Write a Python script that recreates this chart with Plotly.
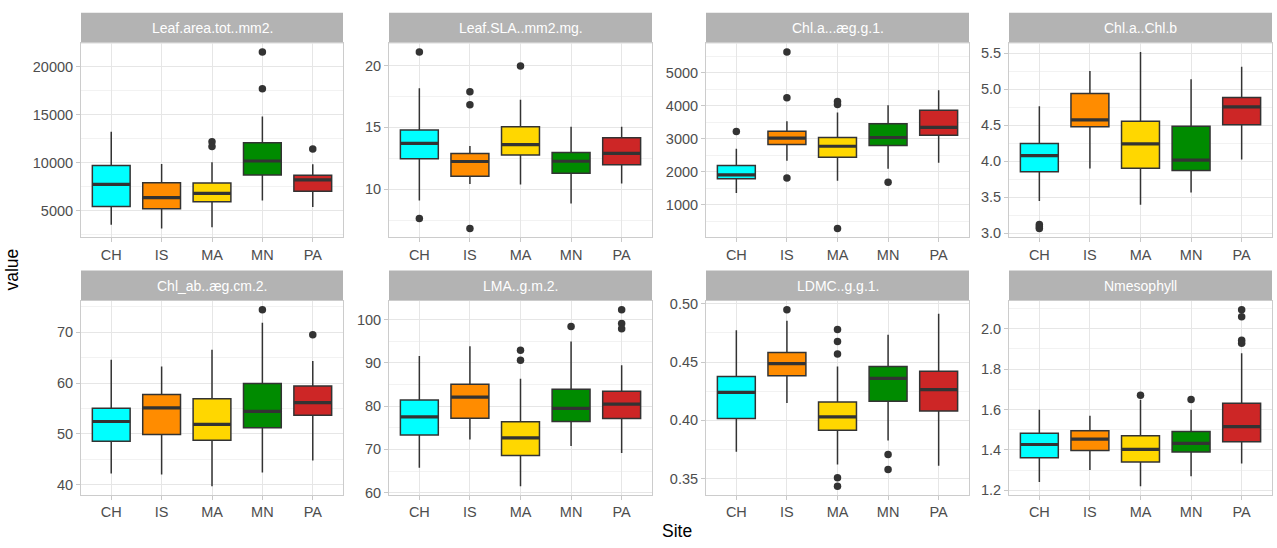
import plotly.graph_objects as go

SITES = ["CH", "IS", "MA", "MN", "PA"]
COLORS = ["#00FFFF", "#FF8C00", "#FFD700", "#008B00", "#CD2626"]
PANELS = ["Leaf.area.tot..mm2.", "Leaf.SLA..mm2.mg.", "Chl.a...æg.g.1.", "Chl.a..Chl.b",
          "Chl_ab..æg.cm.2.", "LMA..g.m.2.", "LDMC..g.g.1.", "Nmesophyll"]

LOWER = [
    [3550, 3180, 3315, 6079, 5405],
    [9.08, 10.42, 10.37, 8.84, 10.45],
    [1355, 2330, 1729, 2094, 2271],
    [3.446, 3.896, 3.392, 3.563, 4.023],
    [42.23, 42.04, 39.74, 42.43, 44.79],
    [65.77, 72.28, 61.5, 70.79, 69.14],
    [0.373, 0.4149, 0.3622, 0.3827, 0.3611],
    [1.242, 1.301, 1.221, 1.27, 1.333],
]
Q1 = [
    [5472, 5236, 5944, 8742, 7056],
    [12.47, 11.05, 12.76, 11.29, 11.97],
    [1788, 2823, 2438, 2793, 3108],
    [3.851, 4.477, 3.901, 3.869, 4.505],
    [48.55, 49.89, 48.74, 51.23, 53.66],
    [73.33, 77.23, 68.61, 76.48, 77.15],
    [0.4016, 0.4382, 0.3916, 0.4163, 0.408],
    [1.361, 1.398, 1.341, 1.39, 1.441],
]
MEDIAN = [
    [7764, 6382, 6820, 10191, 8236],
    [13.71, 12.24, 13.6, 12.26, 12.89],
    [1906, 3020, 2773, 3039, 3345],
    [4.077, 4.572, 4.239, 4.014, 4.752],
    [52.44, 55.12, 51.87, 54.42, 56.15],
    [77.53, 82.1, 72.66, 79.48, 80.45],
    [0.424, 0.4487, 0.403, 0.436, 0.4263],
    [1.427, 1.454, 1.403, 1.433, 1.516],
]
Q3 = [
    [9719, 7933, 7899, 12079, 8708],
    [14.79, 12.89, 15.05, 12.97, 14.16],
    [2192, 3227, 3039, 3453, 3867],
    [4.243, 4.937, 4.554, 4.482, 4.883],
    [55.06, 57.74, 56.91, 59.91, 59.4],
    [81.42, 85.09, 76.4, 83.9, 83.45],
    [0.4376, 0.4582, 0.4157, 0.4462, 0.4421],
    [1.483, 1.495, 1.471, 1.491, 1.631],
]
UPPER = [
    [13225, 9888, 10057, 14810, 9854],
    [18.16, 13.5, 17.24, 15.05, 15.05],
    [2695, 3532, 3798, 4015, 4468],
    [4.761, 5.252, 5.514, 5.135, 5.311],
    [64.57, 63.23, 66.55, 71.84, 64.31],
    [91.61, 93.86, 86.37, 94.98, 89.44],
    [0.4773, 0.4853, 0.4462, 0.4734, 0.4914],
    [1.599, 1.569, 1.649, 1.599, 1.879],
]
OUTLIERS = [
    [[], [], [12200, 11700], [21518, 17709], [11439]],
    [[21.1, 7.63], [17.89, 16.84, 6.82], [19.97], [], []],
    [[3217], [5630, 4241, 1808], [4130, 4040, 281], [1680], []],
    [[3.12, 3.09, 3.065], [], [], [], []],
    [[], [], [], [74.4], [69.48]],
    [[], [], [92.96, 90.64], [98.43], [102.3, 99.1, 97.9]],
    [[], [0.4948], [0.4778, 0.4676, 0.4568, 0.3508, 0.3436], [0.3708, 0.3578], []],
    [[], [], [1.671], [1.65], [2.094, 2.059, 1.943, 1.928]],
]
DTICK = [5000, 5, 1000, 0.5, 10, 10, 0.05, 0.2]
TICKFMT = ["d", "d", "d", ".1f", "d", "d", ".2f", ".1f"]

W, H = 1277, 548
COL_X = [(81, 343), (389, 652), (706, 969), (1009, 1272)]
ROW_Y = [(39, 237), (302, 500)]
STRIP_H = 31
FONT = "Liberation Sans, Arial, sans-serif"
DARK = "#333333"
BOXW = 0.75

fig = go.Figure()
layout = {}
shapes = []
annotations = []

for p in range(8):
    r, c = divmod(p, 4)
    ax = "" if p == 0 else str(p + 1)
    xref, yref = "x" + ax, "y" + ax
    for i, site in enumerate(SITES):
        fig.add_trace(go.Box(
            x=[i], q1=[Q1[p][i]], median=[MEDIAN[p][i]], q3=[Q3[p][i]],
            lowerfence=[LOWER[p][i]], upperfence=[UPPER[p][i]],
            width=BOXW, whiskerwidth=0, fillcolor=COLORS[i],
            line=dict(color=DARK, width=1.5), boxpoints=False,
            xaxis=xref, yaxis=yref, showlegend=False, hoverinfo="skip"))
        fig.add_trace(go.Scatter(
            x=[i - BOXW / 2, i + BOXW / 2], y=[MEDIAN[p][i], MEDIAN[p][i]],
            mode="lines", line=dict(color=DARK, width=3.2),
            xaxis=xref, yaxis=yref, showlegend=False, hoverinfo="skip"))
        if OUTLIERS[p][i]:
            fig.add_trace(go.Scatter(
                x=[i] * len(OUTLIERS[p][i]), y=OUTLIERS[p][i], mode="markers",
                marker=dict(color=DARK, size=7.5),
                xaxis=xref, yaxis=yref, showlegend=False, hoverinfo="skip"))
    allv = LOWER[p] + UPPER[p] + [v for o in OUTLIERS[p] for v in o]
    lo, hi = min(allv), max(allv)
    pad = (hi - lo) * 0.05
    x0, x1 = COL_X[c]
    y0, y1 = ROW_Y[r]
    layout["xaxis" + ax] = dict(
        domain=[x0 / W, x1 / W], range=[-0.6, 4.6], anchor=yref,
        tickvals=list(range(len(SITES))), ticktext=SITES,
        showgrid=True, gridcolor="#E6E6E6", gridwidth=1, zeroline=False,
        showline=True, mirror=True, linecolor="#CCCCCC", linewidth=1,
        ticks="outside", ticklen=4, tickcolor="#C8C8C8",
        tickfont=dict(family=FONT, size=14.5, color="#4D4D4D"))
    layout["yaxis" + ax] = dict(
        domain=[1 - y1 / H, 1 - y0 / H], range=[lo - pad, hi + pad], anchor=xref,
        dtick=DTICK[p], tick0=0, tickformat=TICKFMT[p],
        showgrid=True, gridcolor="#E6E6E6", gridwidth=1, zeroline=False,
        minor=dict(dtick=DTICK[p] / 2, showgrid=True, gridcolor="#F2F2F2", gridwidth=0.6),
        showline=True, mirror=True, linecolor="#CCCCCC", linewidth=1,
        ticks="outside", ticklen=4, tickcolor="#C8C8C8",
        tickfont=dict(family=FONT, size=14.5, color="#4D4D4D"))
    shapes.append(dict(type="rect", xref="paper", yref="paper",
                       x0=x0 / W, x1=x1 / W, y0=1 - y0 / H, y1=1 - (y0 - STRIP_H) / H,
                       fillcolor="#B3B3B3", line=dict(width=0), layer="below"))
    annotations.append(dict(text=PANELS[p], xref="paper", yref="paper",
                            x=(x0 + x1) / 2 / W, y=1 - (y0 - STRIP_H / 2) / H,
                            xanchor="center", yanchor="middle", showarrow=False,
                            font=dict(family=FONT, size=14, color="white")))

annotations.append(dict(text="value", xref="paper", yref="paper", x=12 / W, y=1 - 270 / H,
                        textangle=-90, showarrow=False, xanchor="center", yanchor="middle",
                        font=dict(family=FONT, size=17.5, color="black")))
annotations.append(dict(text="Site", xref="paper", yref="paper", x=677 / W, y=1 - 537 / H,
                        showarrow=False, xanchor="center", yanchor="middle",
                        font=dict(family=FONT, size=17.5, color="black")))

fig.update_layout(width=W, height=H, margin=dict(l=0, r=0, t=0, b=0),
                  paper_bgcolor="white", plot_bgcolor="white",
                  shapes=shapes, annotations=annotations, boxmode="overlay", **layout)
fig.write_html("out.html", config={"displayModeBar": False},
               post_script="document.body.style.margin='0';document.body.style.overflow='hidden';")
